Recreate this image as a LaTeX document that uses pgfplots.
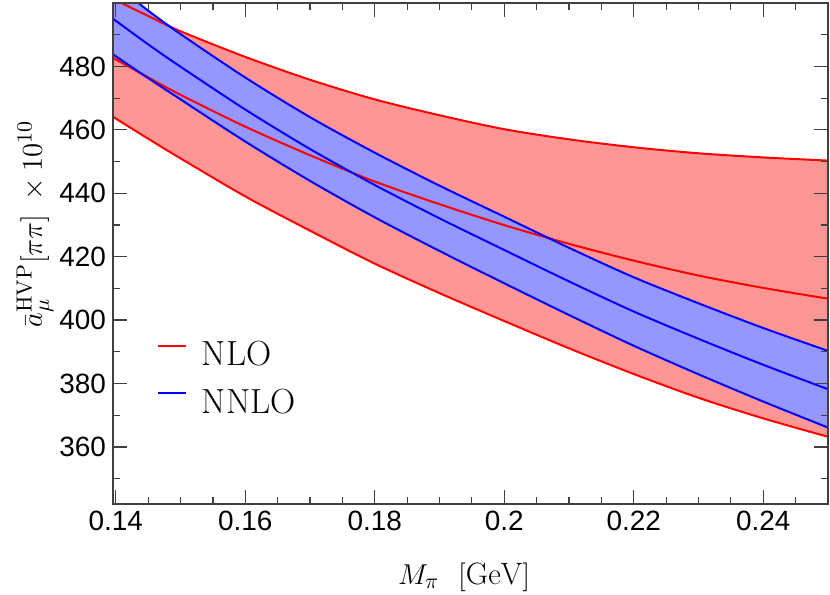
\documentclass[border=0pt]{standalone}
\usepackage{fontspec}
\usepackage{pgfplots}
\pgfplotsset{compat=1.18}
\usepackage{pgfplotstable}
\usepgfplotslibrary{fillbetween}
\newfontfamily\tickfont{Liberation Sans}
\definecolor{fillred}{RGB}{255,150,150}
\definecolor{fillblue}{RGB}{150,150,255}
\definecolor{linered}{RGB}{255,0,0}
\definecolor{lineblue}{RGB}{0,0,255}

\pgfplotstableread{
x lo mid hi
0.13957 464.1 482.7 501.3
0.145 457.2 476.55 495.9
0.15 451.0 471.05 491.1
0.16 439.0 461.0 483.0
0.17 428.2 452.0 475.8
0.18 417.8 443.7 469.6
0.19 408.5 436.55 464.6
0.20 399.7 429.95 460.2
0.21 391.1 424.05 457.0
0.22 383.0 418.75 454.5
0.23 375.5 414.05 452.6
0.24 369.0 410.15 451.3
0.25 363.2 406.75 450.3
}\nlo

\pgfplotstableread{
x lo mid hi
0.13957 483.8 495.05 506.3
0.145 476.3 486.95 497.6
0.15 469.6 479.9 490.2
0.16 456.3 466.4 476.5
0.17 443.9 453.95 464.0
0.18 432.4 442.6 452.8
0.19 421.8 432.1 442.4
0.20 411.6 422.1 432.6
0.21 401.6 412.2 422.8
0.22 391.9 402.7 413.5
0.23 382.9 394.1 405.3
0.24 374.3 385.9 397.5
0.25 366.1 378.2 390.3
}\nnlo

\begin{document}
\begin{tikzpicture}
\begin{axis}[
  at={(0,0)}, anchor=south west,
  scale only axis, width=357.5bp, height=250.5bp,
  xmin=0.13957, xmax=0.25, ymin=342, ymax=500,
  xtick={0.14,0.16,0.18,0.2,0.22,0.24},
  ytick={360,380,400,420,440,460,480},
  minor xtick={0.145,0.15,0.155,0.165,0.17,0.175,0.185,0.19,0.195,0.205,0.21,0.215,0.225,0.23,0.235,0.245},
  minor ytick={350,370,390,410,430,450,470,490},
  tick align=inside,
  major tick length=7bp, minor tick length=3.5bp,
  axis line style={black!75, line width=0.6bp},
  every tick/.style={black!75, line width=0.6bp},
  /pgf/number format/assume math mode=true,
  tick label style={font=\tickfont\fontsize{14}{16}\selectfont},
  xticklabel style={/pgf/number format/fixed},
  xlabel={$M_\pi\ \ [\mathrm{GeV}]$},
  ylabel={$\bar a_\mu^{\mathrm{HVP}}[\pi\pi]\;\times 10^{10}$},
  every axis x label/.style={at={(axis description cs:0.491,-0.1597)}, anchor=base, font=\fontsize{15.5}{18}\selectfont},
  every axis y label/.style={at={(axis description cs:-0.0993,0.559)}, anchor=base, rotate=90, font=\fontsize{15.7}{18}\selectfont},
  set layers, axis on top,
  legend image code/.code={\draw[#1] (0bp,4.5bp) -- (14bp,4.5bp);},
  legend cell align=left,
  legend style={draw=none, fill=none, inner sep=0pt, outer sep=0pt,
    at={(axis description cs:0.0615,0.2505)}, anchor=west,
    row sep=10.2bp, column sep=7.5bp,
    nodes={inner sep=0pt, font=\fontsize{17.5}{20}\selectfont}},
]
\addplot[name path=rl, linered, line width=1bp, smooth, forget plot] table[x=x,y=lo]{\nlo};
\addplot[name path=ru, linered, line width=1bp, smooth, forget plot] table[x=x,y=hi]{\nlo};
\addplot[linered, line width=1bp, smooth, forget plot] table[x=x,y=mid]{\nlo};
\addplot[name path=bl, lineblue, line width=1bp, smooth, forget plot] table[x=x,y=lo]{\nnlo};
\addplot[name path=bu, lineblue, line width=1bp, smooth, forget plot] table[x=x,y=hi]{\nnlo};
\addplot[lineblue, line width=1bp, smooth, forget plot] table[x=x,y=mid]{\nnlo};
\addplot[fillred, forget plot] fill between[of=ru and rl];
\addplot[fillblue, forget plot] fill between[of=bu and bl];
\addlegendimage{linered, line width=1bp}
\addlegendentry{NLO}
\addlegendimage{lineblue, line width=1bp}
\addlegendentry{NNLO}
\end{axis}
\pgfresetboundingbox
\path[use as bounding box] (-56.5bp,-45.5bp) rectangle (358.5bp,252bp);
\end{tikzpicture}
\end{document}
